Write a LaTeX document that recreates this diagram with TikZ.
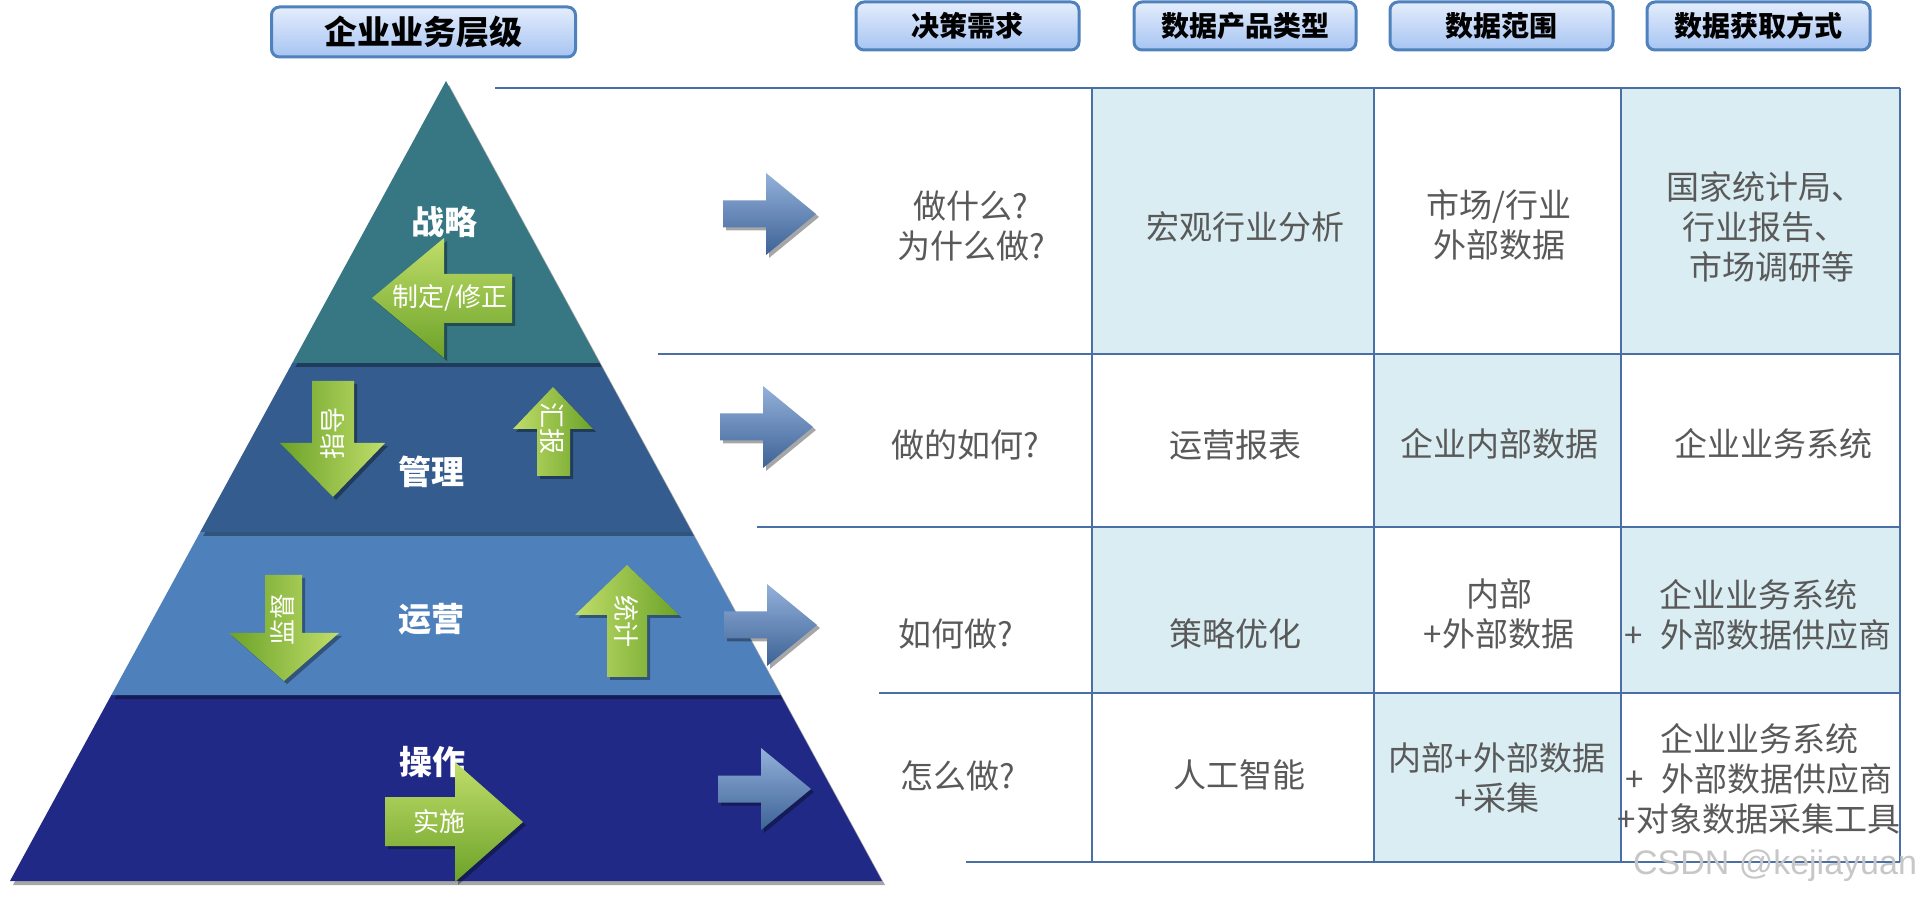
\documentclass[tikz,border=0pt]{standalone}
\usepackage{fontspec}
\setmainfont{Noto Sans CJK SC}
\newfontfamily\wmfont{Liberation Sans}
\usetikzlibrary{shadows,calc}
\definecolor{strat}{HTML}{367783}
\definecolor{mgmt}{HTML}{345C8E}
\definecolor{opsc}{HTML}{4E80BC}
\definecolor{basec}{HTML}{202A86}
\definecolor{glight}{HTML}{C0DE6A}
\definecolor{gdark}{HTML}{6CA228}
\definecolor{blight}{HTML}{93B1DA}
\definecolor{bdark}{HTML}{3D6296}
\definecolor{hdrtop}{HTML}{E4EDFC}
\definecolor{hdrbot}{HTML}{A6C4F2}
\definecolor{hdrborder}{HTML}{4F81BD}
\definecolor{cellfill}{HTML}{DAEDF3}
\definecolor{gridc}{HTML}{4A6FA5}
\definecolor{txtgray}{HTML}{595959}
\tikzset{
  hdr/.style={draw=hdrborder, line width=1.5pt, rounded corners=4pt,
    top color=hdrtop, bottom color=hdrbot, inner sep=0pt,
    font=\fontsize{14}{16}\selectfont\bfseries, text=black},
  layertext/.style={text=white, font=\fontsize{16.5}{18}\selectfont\bfseries, inner sep=0pt},
  arrtext/.style={text=white, font=\fontsize{13}{15}\selectfont, inner sep=0pt},
  cell/.style={text=txtgray, font=\fontsize{16.5}{20}\selectfont, align=center, inner sep=0pt},
  gridline/.style={draw=gridc, line width=1pt},
  layershadow/.style={drop shadow={shadow xshift=1.5pt, shadow yshift=-2pt, opacity=0.35, fill=black}},
  arrshadow/.style={drop shadow={shadow xshift=1.5pt, shadow yshift=-1.5pt, opacity=0.35, fill=black}},
  barrow/.pic={
    \shade[arrshadow, top color=blight, bottom color=bdark]
      (0,-13.5) -- (43,-13.5) -- (43,-41) -- (93,0) -- (43,41) -- (43,13.5) -- (0,13.5) -- cycle;
  }
}
\begin{document}
\begin{tikzpicture}[x=0.5pt,y=-0.5pt]
\useasboundingbox (0,0) rectangle (1923,897);
\fill[white] (0,0) rectangle (1923,897);

% ---------- headers ----------
\node[hdr, minimum width=152pt, minimum height=25pt, font=\fontsize{16.5}{18}\selectfont\bfseries] (h0) at (423.5,32) {企业业务层级};
\node[hdr, minimum width=111.5pt, minimum height=24pt] (h1) at (967.5,26) {决策需求};
\node[hdr, minimum width=111pt, minimum height=24pt] (h2) at (1245,26) {数据产品类型};
\node[hdr, minimum width=111.5pt, minimum height=24pt] (h3) at (1501.5,26) {数据范围};
\node[hdr, minimum width=111.5pt, minimum height=24pt] (h4) at (1758.5,26) {数据获取方式};

% ---------- table fills ----------
\fill[cellfill] (1092,88) rectangle (1374,354);
\fill[cellfill] (1621,88) rectangle (1900,354);
\fill[cellfill] (1374,354) rectangle (1621,527);
\fill[cellfill] (1092,527) rectangle (1374,693);
\fill[cellfill] (1621,527) rectangle (1900,693);
\fill[cellfill] (1374,693) rectangle (1621,862);

% ---------- table grid ----------
\coordinate (r0a) at (495,88);  \coordinate (r0b) at (1900,88);
\coordinate (r1a) at (658,354); \coordinate (r1b) at (1900,354);
\coordinate (r2a) at (757,527); \coordinate (r2b) at (1900,527);
\coordinate (r3a) at (879,693); \coordinate (r3b) at (1900,693);
\coordinate (r4a) at (966,862); \coordinate (r4b) at (1900,862);
\foreach \r in {0,...,4} {\draw[gridline] (r\r a) -- (r\r b);}
\coordinate (c1t) at (1092,88);  \coordinate (c1b) at (1092,862);
\coordinate (c2t) at (1374,88);  \coordinate (c2b) at (1374,862);
\coordinate (c3t) at (1621,88);  \coordinate (c3b) at (1621,862);
\coordinate (c4t) at (1900,88);  \coordinate (c4b) at (1900,862);
\foreach \c in {1,...,4} {\draw[gridline] (c\c t) -- (c\c b);}

% ---------- pyramid ----------
\coordinate (A) at (446,81);
\coordinate (BL) at (10,881);
\coordinate (BR) at (882,881);
\coordinate (L1) at ($(A)!0.3525!(BL)$);  \coordinate (R1) at ($(A)!0.3525!(BR)$);
\coordinate (L2) at ($(A)!0.56375!(BL)$); \coordinate (R2) at ($(A)!0.56375!(BR)$);
\coordinate (L3) at ($(A)!0.7675!(BL)$);  \coordinate (R3) at ($(A)!0.7675!(BR)$);
\fill[basec, layershadow] (L3) -- (R3) -- (BR) -- (BL) -- cycle;
\fill[opsc, layershadow] (L2) -- (R2) -- (R3) -- (L3) -- cycle;
\fill[mgmt, layershadow] (L1) -- (R1) -- (R2) -- (L2) -- cycle;
\fill[strat, layershadow] (A) -- (R1) -- (L1) -- cycle;

\node[layertext] (t1) at (444,222) {战略};
\node[layertext] (t2) at (431,472) {管理};
\node[layertext] (t3) at (431,619) {运营};
\node[layertext] (t4) at (432,762) {操作};

% ---------- green arrows ----------
% 制定/修正 (left)
\shade[arrshadow, top color=glight, bottom color=gdark]
  (372,298) -- (444,238) -- (444,274) -- (512,274) -- (512,323) -- (444,323) -- (444,358) -- cycle;
\node[arrtext] (g1) at (450,298) {制定/修正};
% 指导 (down)
\shade[arrshadow, left color=gdark, right color=glight]
  (312,381) -- (354,381) -- (354,443) -- (385,443) -- (333,497) -- (280,443) -- (312,443) -- cycle;
\node[arrtext, rotate=90] (g2) at (333,434) {指导};
% 汇报 (up)
\shade[arrshadow, left color=glight, right color=gdark]
  (553,387) -- (593,429) -- (570,429) -- (570,476) -- (537,476) -- (537,429) -- (513,429) -- cycle;
\node[arrtext, rotate=-90] (g3) at (552,429) {汇报};
% 监督 (down)
\shade[arrshadow, left color=gdark, right color=glight]
  (265,575) -- (302,575) -- (302,633) -- (339,633) -- (284,681) -- (229,633) -- (265,633) -- cycle;
\node[arrtext, rotate=90] (g4) at (283,620) {监督};
% 统计 (up)
\shade[arrshadow, left color=glight, right color=gdark]
  (627,565) -- (679,615) -- (647,615) -- (647,677) -- (607,677) -- (607,615) -- (575,615) -- cycle;
\node[arrtext, rotate=-90] (g5) at (626,622) {统计};
% 实施 (right)
\shade[arrshadow, top color=glight, bottom color=gdark]
  (385,797) -- (455,797) -- (455,762) -- (523,822) -- (455,882) -- (455,846) -- (385,846) -- cycle;
\node[arrtext] (g6) at (439,822) {实施};

% ---------- blue arrows ----------
\pic at (723,214) {barrow};
\pic at (720,427) {barrow};
\pic at (724,625) {barrow};
\pic at (718,789) {barrow};

% ---------- table text ----------
\node[cell] (q1) at (971,226) {做什么?\\为什么做?};
\node[cell] (p1) at (1245,227) {宏观行业分析};
\node[cell] (s1) at (1499,225) {市场/行业\\外部数据};
\node[cell] (m1) at (1765,227) {国家统计局、\\行业报告、\\\hspace*{0.4em}市场调研等};

\node[cell] (q2) at (965,445) {做的如何?};
\node[cell] (p2) at (1235,445) {运营报表};
\node[cell] (s2) at (1499,444) {企业内部数据};
\node[cell] (m2) at (1773,444) {企业业务系统};

\node[cell] (q3) at (956,634) {如何做?};
\node[cell] (p3) at (1235,634) {策略优化};
\node[cell] (s3) at (1499,614) {内部\\+外部数据};
\node[cell] (m3) at (1758,615) {企业业务系统\\+\hspace{0.55em}外部数据供应商};

\node[cell] (q4) at (958,776) {怎么做?};
\node[cell] (p4) at (1239,775) {人工智能};
\node[cell] (s4) at (1497,778) {内部+外部数据\\+采集};
\node[cell] (m4) at (1759,779) {企业业务系统\\+\hspace{0.55em}外部数据供应商\\+对象数据采集工具};

% ---------- watermark ----------
\node[text=black!22, font=\wmfont\fontsize{17}{19}\selectfont, inner sep=0pt] (wm) at (1775,866) {CSDN @kejiayuan};
\end{tikzpicture}
\end{document}
